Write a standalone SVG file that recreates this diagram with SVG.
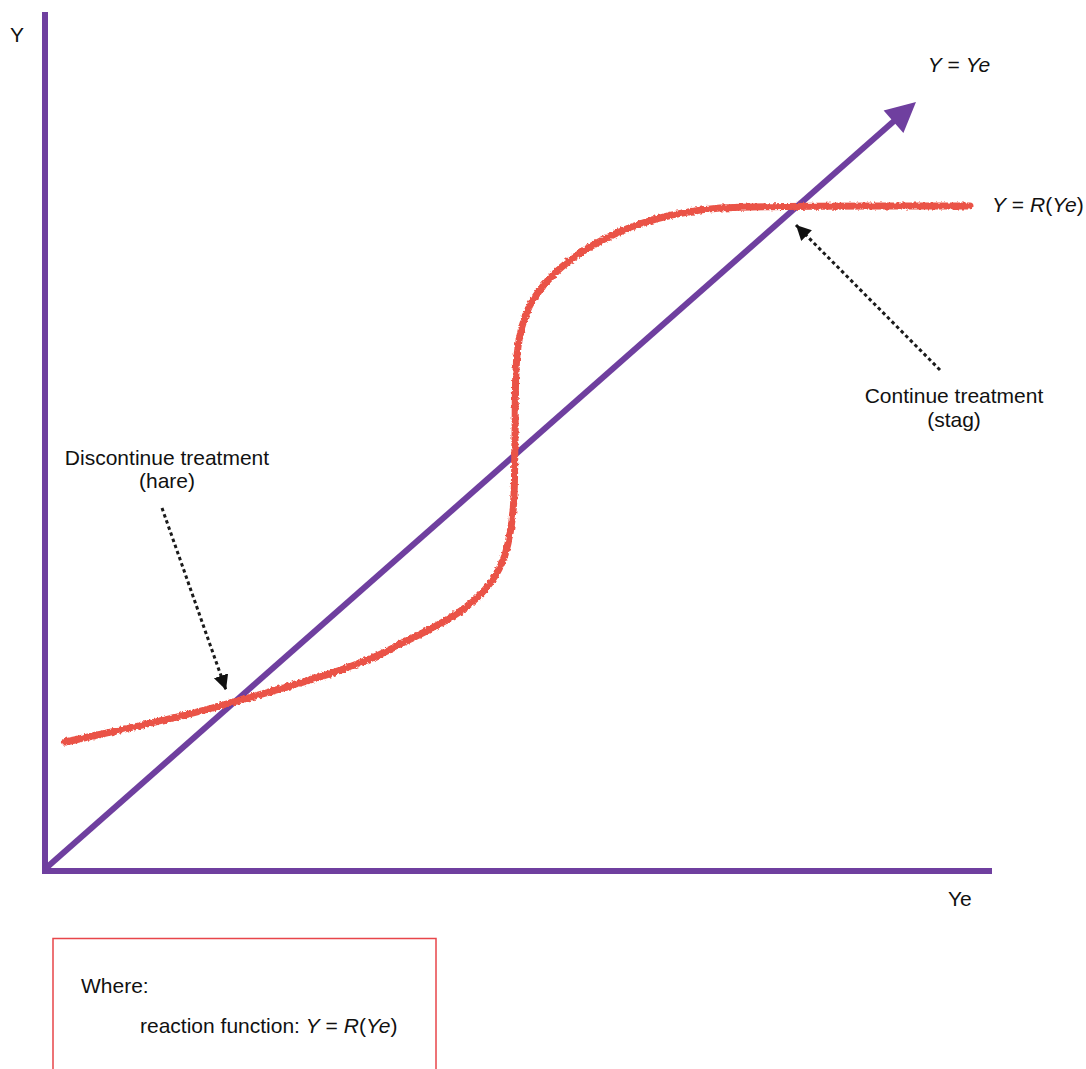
<svg xmlns="http://www.w3.org/2000/svg" width="1086" height="1069" viewBox="0 0 1086 1069">
<style>
  .axis { stroke: #6f3f9f; stroke-width: 6; fill: none; stroke-linecap: butt; }
  .curve { stroke: #ea5246; stroke-width: 7; fill: none; stroke-linecap: round; }
  .dots { stroke: #1a1a1a; stroke-width: 3; fill: none; stroke-dasharray: 3.5 3; }
  text { font-family: "Liberation Sans", Arial, sans-serif; font-size: 21px; fill: #111; }
  .it { font-style: italic; }
  .box { fill: none; stroke: #e8464a; stroke-width: 1.5; }
</style>
<defs>
  <marker id="ah" markerUnits="userSpaceOnUse" markerWidth="16" markerHeight="16" refX="15" refY="7.5" orient="auto">
    <path d="M0,0 L15,7.5 L0,15 Z" fill="#111"/>
  </marker>
  <filter id="rough" x="-5%" y="-5%" width="110%" height="110%">
    <feTurbulence type="fractalNoise" baseFrequency="0.35" numOctaves="2" seed="3" result="n"/>
    <feDisplacementMap in="SourceGraphic" in2="n" scale="4" xChannelSelector="R" yChannelSelector="G"/>
  </filter>
</defs>
<rect width="1086" height="1069" fill="#fff"/>

<g id="connectors">
  <line id="y-axis" class="axis" x1="45" y1="12" x2="45" y2="874"/>
  <line id="x-axis" class="axis" x1="42" y1="871" x2="992" y2="871"/>
  <line id="diagonal" class="axis" x1="45" y1="869" x2="894" y2="121"/>
  <polygon id="diagonal-head" points="916,102 883.6,110.5 903.4,133.1" fill="#6f3f9f"/>
  <path id="reaction-curve" class="curve" filter="url(#rough)" d="M65,742 C120,730 180,718 230,703 C290,686 360,668 400,644 C450,620 490,600 505,555 C517,515 514,470 515,440 C516,390 512,340 530,305 C558,255 630,215 720,208 C780,205 880,206 970,206"/>
  <line id="hare-arrow" class="dots" x1="162" y1="508" x2="226" y2="690" marker-end="url(#ah)"/>
  <line id="stag-arrow" class="dots" x1="940" y1="370" x2="796" y2="225" marker-end="url(#ah)"/>
</g>

<g id="label-y"><text x="10" y="42">Y</text></g>
<g id="label-ye"><text x="948" y="906">Ye</text></g>
<g id="label-y-eq-ye"><text x="959" y="72" text-anchor="middle"><tspan class="it">Y</tspan> = <tspan class="it">Ye</tspan></text></g>
<g id="label-reaction"><text x="992" y="212"><tspan class="it">Y</tspan> = <tspan class="it">R</tspan>(<tspan class="it">Ye</tspan>)</text></g>
<g id="label-hare">
  <text x="167" y="465" text-anchor="middle">Discontinue treatment</text>
  <text x="167" y="488" text-anchor="middle">(hare)</text>
</g>
<g id="label-stag">
  <text x="954" y="403" text-anchor="middle">Continue treatment</text>
  <text x="954" y="427" text-anchor="middle">(stag)</text>
</g>
<g id="legend">
  <rect class="box" x="53" y="938.5" width="383" height="140"/>
  <text x="81" y="993">Where:</text>
  <text x="140" y="1033">reaction function: <tspan class="it">Y</tspan> = <tspan class="it">R</tspan>(<tspan class="it">Ye</tspan>)</text>
</g>
</svg>
